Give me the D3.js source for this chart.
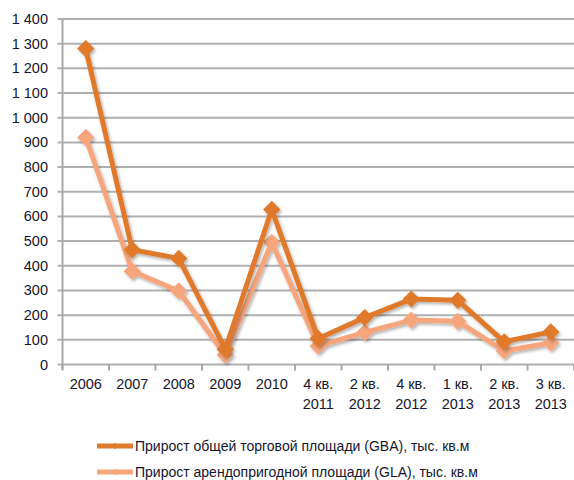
<!DOCTYPE html>
<html><head><meta charset="utf-8">
<script src="https://cdn.jsdelivr.net/npm/d3@7"></script>
<style>body{margin:0;background:#fff}svg{display:block}text{font-family:"Liberation Sans",Arial,sans-serif;fill:#15152d}</style>
</head><body><svg id="c" width="574" height="480"></svg>
<script>
const categories = [["2006"],["2007"],["2008"],["2009"],["2010"],["4 кв.","2011"],["2 кв.","2012"],["4 кв.","2012"],["1 кв.","2013"],["2 кв.","2013"],["3 кв.","2013"]];
const gba = [1280, 465, 430, 62, 628, 105, 190, 265, 260, 92, 132];
const gla = [920, 378, 298, 38, 495, 75, 130, 180, 175, 55, 88];
const yTicks = [0,100,200,300,400,500,600,700,800,900,1000,1100,1200,1300,1400];
const seriesNames = ["Прирост общей торговой площади (GBA), тыс. кв.м","Прирост арендопригодной площади (GLA), тыс. кв.м"];
const colors = ["#e07a2c","#f6a57c"];

(function(){
const svg = d3.select("#c");
const mL = 62.5, mR = 574, mT = 19, mB = 364.5;
const x = d3.scaleBand().domain(d3.range(categories.length)).range([mL, mR]);
const y = d3.scaleLinear().domain([0,1400]).range([mB, mT]);
const fmt = v => d3.format(",")(v).replace(/,/g," ");

svg.append("g").selectAll("line").data(yTicks).join("line")
  .attr("x1", mL-5).attr("x2", mR).attr("y1", d=>y(d)).attr("y2", d=>y(d))
  .attr("stroke","#b0b0b0").attr("stroke-width",2);
svg.append("line").attr("x1",mL).attr("x2",mL).attr("y1",mT).attr("y2",mB+5).attr("stroke","#a8a8a8").attr("stroke-width",2);
svg.append("g").selectAll("line").data(d3.range(categories.length+1)).join("line")
  .attr("x1", d=> d<categories.length? x(d): mR).attr("x2", d=> d<categories.length? x(d): mR)
  .attr("y1", mB).attr("y2", mB+6).attr("stroke","#a8a8a8").attr("stroke-width",2);
svg.append("g").selectAll("text").data(yTicks).join("text")
  .attr("x", 48).attr("y", d=>y(d)+5).attr("text-anchor","end").attr("font-size",14.5).text(fmt);
const xl = svg.append("g").selectAll("text").data(categories).join("text")
  .attr("text-anchor","middle").attr("font-size",14.5)
  .attr("transform",(d,i)=>`translate(${x(i)+x.bandwidth()/2},389)`);
xl.selectAll("tspan").data(d=>d).join("tspan").attr("x",0).attr("dy",(d,i)=>i?20:0).text(d=>d);

const defs = svg.append("defs");
const f = defs.append("filter").attr("id","sh").attr("x","-50%").attr("y","-50%").attr("width","200%").attr("height","200%");
f.append("feDropShadow").attr("dx",1.5).attr("dy",2).attr("stdDeviation",1.5).attr("flood-color","#000").attr("flood-opacity",0.3);

const line = d3.line().x((d,i)=>x(i)+x.bandwidth()/2).y(d=>y(d));
[gla, gba].forEach((s,k)=>{
  const c = k===0? colors[1]: colors[0];
  const g = svg.append("g").attr("filter","url(#sh)");
  g.append("path").datum(s).attr("d",line).attr("fill","none").attr("stroke",c).attr("stroke-width",5).attr("stroke-linejoin","round");
  g.selectAll("path.m").data(s).join("path").attr("class","m")
    .attr("transform",(d,i)=>`translate(${x(i)+x.bandwidth()/2},${y(d)}) rotate(45)`)
    .attr("d", d3.symbol().type(d3.symbolSquare).size(150)).attr("fill",c);
});

seriesNames.forEach((n,i)=>{
  const ly = 446 + i*26;
  svg.append("line").attr("x1",97).attr("x2",133).attr("y1",ly).attr("y2",ly).attr("stroke",colors[i]).attr("stroke-width",5);
  svg.append("path").attr("transform",`translate(115,${ly}) rotate(45)`).attr("d",d3.symbol().type(d3.symbolSquare).size(20)).attr("fill",colors[i]);
  svg.append("text").attr("x",135).attr("y",ly+5).attr("font-size",14).text(n);
});
})();
</script></body></html>
